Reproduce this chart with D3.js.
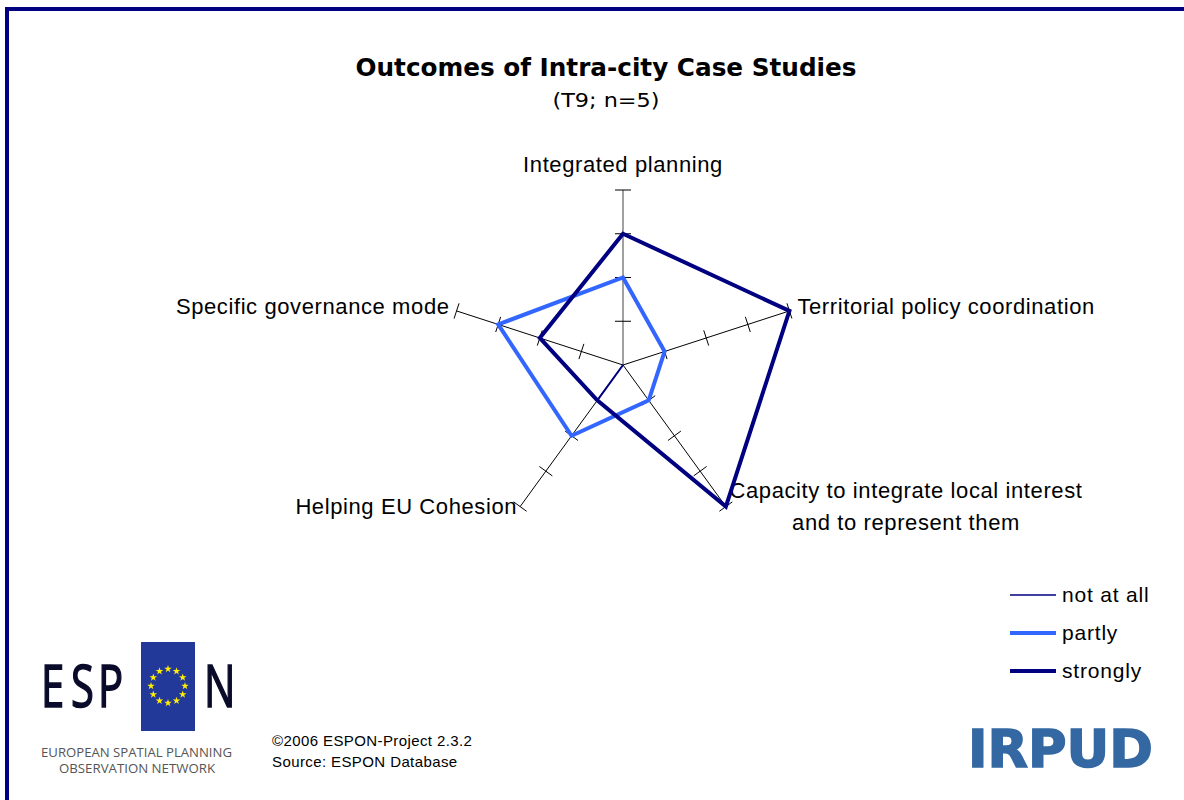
<!DOCTYPE html>
<html>
<head>
<meta charset="utf-8">
<script src="https://cdn.jsdelivr.net/npm/d3@7/dist/d3.min.js"></script>
<style>
  body { margin: 0; background: #fff; }
  svg { display: block; }
</style>
</head>
<body>
<svg width="1184" height="800"></svg>
<script>
// chart values
const axisNames = [
  'Integrated planning',
  'Territorial policy coordination',
  'Capacity to integrate local interest|and to represent them',
  'Helping EU Cohesion',
  'Specific governance mode'
];
const seriesNames = ['not at all', 'partly', 'strongly'];
const notAtAll = [0, 0, 0, 1, 0];
const partly = [2, 1, 1, 2, 3];
const strongly = [3, 4, 4, 1, 2];
const tickValues = [1, 2, 3, 4];

const svg = d3.select('svg');
const width = +svg.attr('width');
const height = +svg.attr('height');

const cx = 623, cy = 365;
const rScale = d3.scaleLinear().domain([0, 4]).range([0, 175]);
const angle = i => i * 2 * Math.PI / axisNames.length;
const pt = (i, v) => [cx + rScale(v) * Math.sin(angle(i)), cy - rScale(v) * Math.cos(angle(i))];

// page frame
svg.append('path')
  .attr('d', `M7,${height} V9 H${width}`)
  .attr('fill', 'none')
  .attr('stroke', '#000080')
  .attr('stroke-width', 4);

// title
svg.append('text')
  .attr('x', 606).attr('y', 76)
  .attr('text-anchor', 'middle')
  .attr('font-family', 'DejaVu Sans')
  .attr('font-weight', 'bold')
  .attr('font-size', 24)
  .attr('textLength', 501).attr('lengthAdjust', 'spacingAndGlyphs')
  .text('Outcomes of Intra-city Case Studies');

svg.append('text')
  .attr('x', 606).attr('y', 107)
  .attr('text-anchor', 'middle')
  .attr('font-family', 'DejaVu Sans')
  .attr('font-size', 20)
  .attr('textLength', 107).attr('lengthAdjust', 'spacingAndGlyphs')
  .text('(T9; n=5)');

// axes
const axisG = svg.append('g');
axisNames.forEach((name, i) => {
  const [x2, y2] = pt(i, 4);
  axisG.append('line')
    .attr('x1', cx).attr('y1', cy).attr('x2', x2).attr('y2', y2)
    .attr('stroke', i === 0 ? '#808080' : '#000')
    .attr('stroke-width', i === 0 ? 1.5 : 1);
  const a = angle(i);
  const px = Math.cos(a) * 8, py = Math.sin(a) * 8;
  tickValues.forEach(t => {
    const [tx, ty] = pt(i, t);
    axisG.append('line')
      .attr('x1', tx - px).attr('y1', ty - py)
      .attr('x2', tx + px).attr('y2', ty + py)
      .attr('stroke', '#000')
      .attr('stroke-width', 1);
  });
});

// axis labels
const labelLayout = [
  { dx: 0, dy: -18, anchor: 'middle' },
  { dx: 8, dy: 3, anchor: 'start' },
  { dx: 0, dy: -9, anchor: 'middle' },
  { dx: -3, dy: 7, anchor: 'end' },
  { dx: -7, dy: 3, anchor: 'end' }
];
axisNames.forEach((name, i) => {
  const [x, y] = pt(i, 4);
  const lay = labelLayout[i];
  const lines = name.split('|');
  const t = svg.append('text')
    .attr('font-family', 'Liberation Sans, Arial')
    .attr('font-size', 22)
    .attr('letter-spacing', 0.6)
    .attr('fill', '#000')
    .attr('text-anchor', lay.anchor);
  if (lines.length > 1) {
    lines.forEach((ln, k) => {
      t.append('tspan')
        .attr('x', 906)
        .attr('y', y + lay.dy + k * 32)
        .text(ln);
    });
  } else {
    t.attr('x', x + lay.dx).attr('y', y + lay.dy).text(name);
  }
});

// series
const series = [
  { name: seriesNames[0], values: notAtAll, color: '#000080', w: 2 },
  { name: seriesNames[1], values: partly, color: '#3366FF', w: 4 },
  { name: seriesNames[2], values: strongly, color: '#000080', w: 4 }
];
const radial = d3.lineRadial()
  .angle((d, i) => angle(i))
  .radius(d => rScale(d))
  .curve(d3.curveLinearClosed);

const plotG = svg.append('g').attr('transform', `translate(${cx},${cy})`);
plotG.selectAll('path.series').data(series)
  .enter().append('path')
    .attr('class', 'series')
    .attr('d', d => radial(d.values))
    .attr('fill', 'none')
    .attr('stroke', d => d.color)
    .attr('stroke-width', d => d.w)
    .attr('stroke-linejoin', 'miter');

// legend
const legendY = d3.scalePoint().domain(seriesNames).range([595, 671]);
const legend = svg.append('g');
series.forEach(s => {
  legend.append('line')
    .attr('x1', 1010).attr('x2', 1056)
    .attr('y1', legendY(s.name)).attr('y2', legendY(s.name))
    .attr('stroke', s.color)
    .attr('stroke-width', s.w === 2 ? 1.5 : 4);
  legend.append('text')
    .attr('x', 1062).attr('y', legendY(s.name) + 7)
    .attr('font-family', 'Liberation Sans, Arial')
    .attr('font-size', 21)
    .attr('letter-spacing', 0.8)
    .text(s.name);
});

// ESPON logo
const logo = svg.append('g');
logo.append('rect')
  .attr('x', 141).attr('y', 642).attr('width', 54).attr('height', 89)
  .attr('fill', '#23399a');
const star = d3.symbol().type(d3.symbolStar).size(18);
d3.range(12).forEach(k => {
  const a = k * Math.PI / 6;
  logo.append('path')
    .attr('d', star())
    .attr('transform', `translate(${168 + 17 * Math.sin(a)},${686 - 17 * Math.cos(a)})`)
    .attr('fill', '#ffee00');
});
[['E', 41], ['S', 71], ['P', 98], ['N', 204]].forEach(([ch, x]) => {
  logo.append('text')
    .attr('transform', `translate(${x},707) scale(0.72,1)`)
    .attr('font-family', 'Open Sans')
    .attr('font-size', 58)
    .attr('fill', '#0a0a2a')
    .attr('stroke', '#0a0a2a')
    .attr('stroke-width', 1.6)
    .text(ch);
});
logo.append('text')
  .attr('x', 41).attr('y', 757)
  .attr('font-family', 'Open Sans')
  .attr('font-size', 13)
  .attr('fill', '#555')
  .attr('textLength', 191).attr('lengthAdjust', 'spacingAndGlyphs')
  .text('EUROPEAN SPATIAL PLANNING');
logo.append('text')
  .attr('x', 59).attr('y', 773)
  .attr('font-family', 'Open Sans')
  .attr('font-size', 13)
  .attr('fill', '#555')
  .attr('textLength', 156).attr('lengthAdjust', 'spacingAndGlyphs')
  .text('OBSERVATION NETWORK');

// credits
svg.append('text')
  .attr('x', 272).attr('y', 746)
  .attr('font-family', 'Liberation Sans, Arial')
  .attr('font-size', 15)
  .attr('letter-spacing', 0.4)
  .text('©2006 ESPON-Project 2.3.2');
svg.append('text')
  .attr('x', 272).attr('y', 767)
  .attr('font-family', 'Liberation Sans, Arial')
  .attr('font-size', 15)
  .attr('letter-spacing', 0.4)
  .text('Source: ESPON Database');

// IRPUD logo
svg.append('text')
  .attr('x', 968).attr('y', 767)
  .attr('font-family', 'DejaVu Sans')
  .attr('font-weight', 'bold')
  .attr('font-size', 52)
  .attr('fill', '#3468a3')
  .attr('stroke', '#3468a3')
  .attr('stroke-width', 1.5)
  .attr('textLength', 185).attr('lengthAdjust', 'spacingAndGlyphs')
  .text('IRPUD');
</script>
</body>
</html>
